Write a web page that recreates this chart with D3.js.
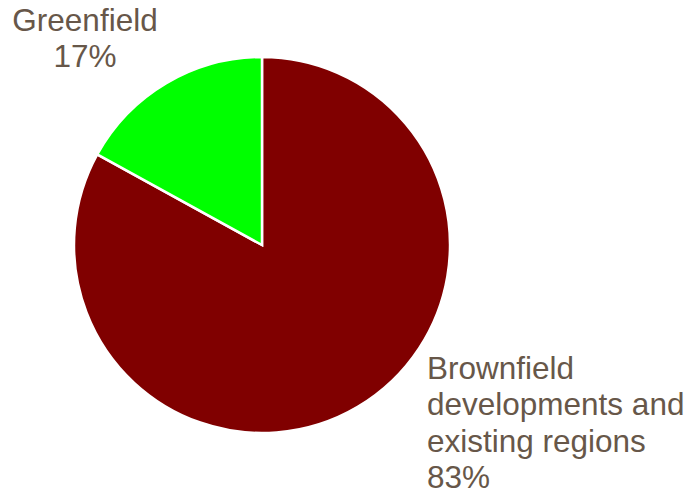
<!DOCTYPE html>
<html><head><meta charset="utf-8">
<script src="https://cdn.jsdelivr.net/npm/d3@7"></script>
<style>html,body{margin:0;padding:0;background:#fff;}</style>
</head><body>
<script>
const categories = ["Brownfield developments and existing regions", "Greenfield"];
const values = [83, 17];
const labelLines = [["Brownfield", "developments and", "existing regions", "83%"], ["Greenfield", "17%"]];
const colors = ["#800000", "#00ff00"];

const W = 688, H = 498;
const cx = 262, cy = 245, R = 188;
const svg = d3.select("body").append("svg").attr("width", W).attr("height", H);
const g = svg.append("g").attr("transform", `translate(${cx},${cy})`);
const pie = d3.pie().sort(null).value(d => d)(values);
const arc = d3.arc().innerRadius(0).outerRadius(R);
g.selectAll("path").data(pie).join("path")
  .attr("d", arc)
  .attr("fill", (d, i) => colors[i])
  .attr("stroke", "#fff").attr("stroke-width", 2.5).attr("stroke-linejoin", "miter");

const font = "'Liberation Sans', Arial, Helvetica, sans-serif";
const lh = 36.3;
// Brownfield label
const t0 = svg.append("text").attr("font-family", font).attr("font-size", 31.5).attr("fill", "#675749");
labelLines[0].forEach((s, i) => t0.append("tspan").attr("x", 427).attr("y", 379 + i * lh).text(s));
// Greenfield label
const t1 = svg.append("text").attr("font-family", font).attr("font-size", 31.5).attr("fill", "#675749").attr("text-anchor", "middle");
labelLines[1].forEach((s, i) => t1.append("tspan").attr("x", 85).attr("y", 31 + i * lh).text(s));
</script>
</body></html>
